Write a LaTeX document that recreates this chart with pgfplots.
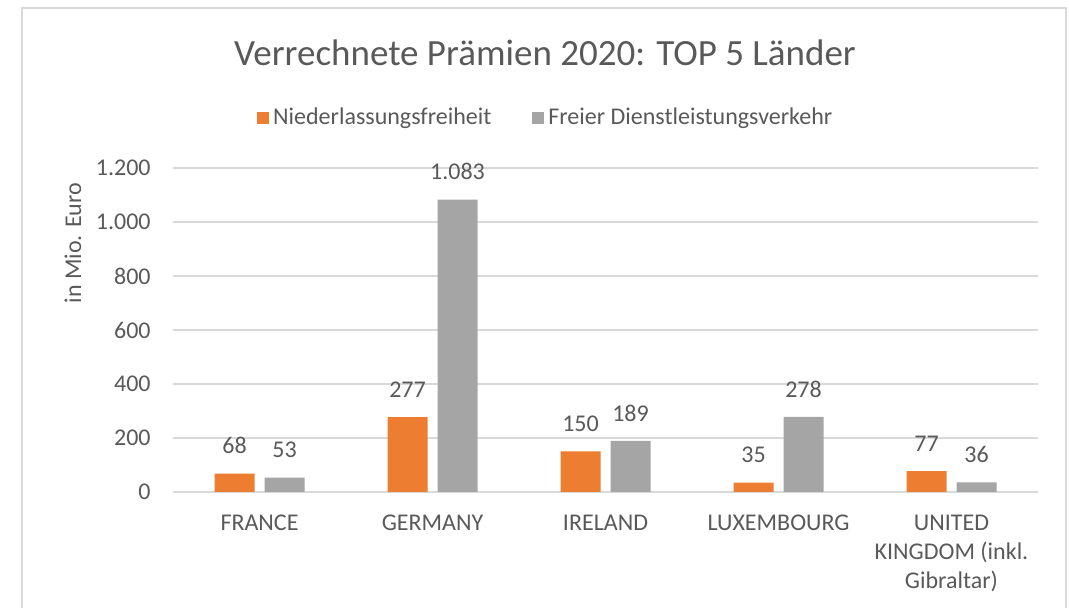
\documentclass[border=0pt]{standalone}
\usepackage{pgfplots}
\pgfplotsset{compat=1.18}
\usepackage{fontspec}
\setmainfont{Carlito}
\definecolor{txt}{HTML}{595959}
\definecolor{gridc}{HTML}{D9D9D9}
\definecolor{orng}{HTML}{ED7D31}
\definecolor{gry}{HTML}{A5A5A5}
\begin{document}
\begin{tikzpicture}
\useasboundingbox (0,0) rectangle (534.5pt,304pt);
\begin{scope}
\clip (0,0) rectangle (534.5pt,304pt);
\draw[gridc, line width=1pt] (11pt,-20pt) rectangle (533pt,300pt);
\end{scope}
\node[text=txt, font=\fontsize{18.5}{22}\selectfont] at (272.5pt,277.5pt) {Verrechnete Prämien 2020: TOP 5 Länder};
\node[text=txt, rotate=90, font=\fontsize{12}{14}\selectfont] at (36.5pt,182.5pt) {in Mio. Euro};
\begin{axis}[
 at={(86.5pt,58pt)}, anchor=south west,
 scale only axis, width=432.5pt, height=162pt,
 xmin=-0.5, xmax=4.5, ymin=0, ymax=1200,
 ybar=5pt, bar width=20pt,
 axis line style={draw=none},
 major tick length=0pt,
 ytick={0,200,...,1200},
 xtick={0,1,2,3,4},
 xticklabels={FRANCE,GERMANY,IRELAND,LUXEMBOURG,{UNITED\\KINGDOM (inkl.\\Gibraltar)}},
 ymajorgrids, grid style={gridc, line width=1pt},
 /pgf/number format/1000 sep={.},
 /pgf/number format/assume math mode=true,
 tick label style={text=txt, font=\fontsize{12}{14.5}\selectfont},
 yticklabel style={inner sep=0pt, xshift=-11pt},
 xticklabel style={align=center, inner sep=0pt, yshift=-11.5pt},
 nodes near coords,
 every node near coord/.append style={text=txt, font=\fontsize{12}{14.5}\selectfont, inner sep=0pt, yshift=9.6pt},
 legend style={at={(0.432,1.155)}, anchor=center, draw=none, legend columns=2, font=\fontsize{12}{14.5}\selectfont, text=txt, /tikz/every even column/.append style={column sep=18.5pt}},
 legend image code/.code={\fill[#1] (0pt,-3pt) rectangle (6pt,3pt);},
]
\addplot[fill=orng, draw=none] coordinates {(0,68) (1,277) (2,150) (3,35) (4,77)};
\addlegendentry{Niederlassungsfreiheit}
\addplot[fill=gry, draw=none] coordinates {(0,53) (1,1083) (2,189) (3,278) (4,36)};
\addlegendentry{Freier Dienstleistungsverkehr}
\end{axis}
\end{tikzpicture}
\end{document}
